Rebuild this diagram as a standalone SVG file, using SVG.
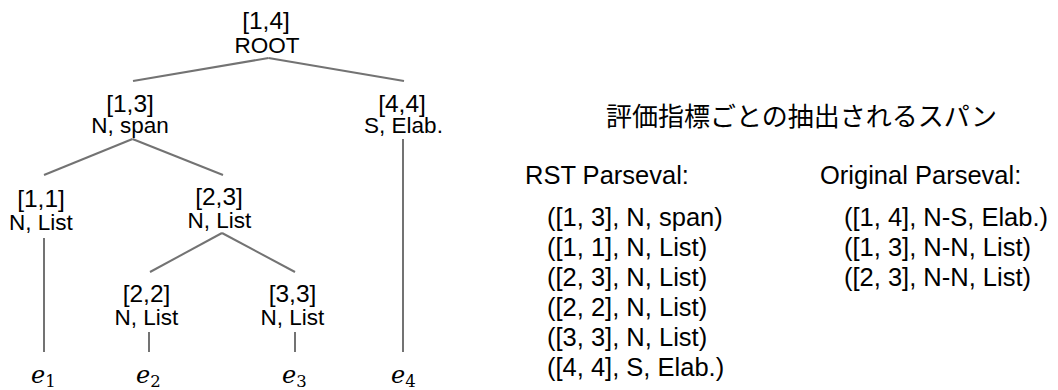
<svg xmlns="http://www.w3.org/2000/svg" width="1058" height="390" viewBox="0 0 1058 390">
<style>
text{font-family:"Liberation Sans",Arial,sans-serif;fill:#000}
.br{font-size:24.5px;text-anchor:middle}
.lb{font-size:22.5px;text-anchor:middle}
.e{font-family:"DejaVu Serif","Liberation Serif",serif;font-style:italic;font-size:24px}
.sub{font-style:normal;font-size:16.5px}
.r{font-size:25.5px}
.t{font-family:"Noto Sans CJK JP","Noto Sans CJK SC",sans-serif;font-size:26px}
.c line{stroke:#737373;stroke-width:2;fill:none}
</style>
<rect width="1058" height="390" fill="#fff"/>
<g class="c" id="connectors">
<line x1="268.5" y1="58" x2="133" y2="81"/>
<line x1="268.5" y1="58" x2="404" y2="81"/>
<line x1="132.5" y1="139" x2="44" y2="175"/>
<line x1="132.5" y1="139" x2="223" y2="175"/>
<line x1="403" y1="139" x2="403" y2="352"/>
<line x1="44" y1="238" x2="44" y2="352"/>
<line x1="222" y1="233" x2="150" y2="272"/>
<line x1="222" y1="233" x2="295" y2="272"/>
<line x1="149" y1="332" x2="149" y2="352"/>
<line x1="295" y1="332" x2="295" y2="352"/>
</g>
<g id="n14"><text class="br" x="266" y="29">[1,4]</text><text class="lb" x="267" y="52.5">ROOT</text></g>
<g id="n13"><text class="br" x="130" y="112">[1,3]</text><text class="lb" x="130" y="132.5">N, span</text></g>
<g id="n44"><text class="br" x="402" y="112">[4,4]</text><text class="lb" x="403.5" y="132.5">S, Elab.</text></g>
<g id="n11"><text class="br" x="41" y="207">[1,1]</text><text class="lb" x="41" y="230">N, List</text></g>
<g id="n23"><text class="br" x="219" y="205">[2,3]</text><text class="lb" x="219.5" y="227.5">N, List</text></g>
<g id="n22"><text class="br" x="146.5" y="301.5">[2,2]</text><text class="lb" x="146.5" y="325">N, List</text></g>
<g id="n33"><text class="br" x="292.5" y="301.5">[3,3]</text><text class="lb" x="292.5" y="325">N, List</text></g>
<g id="edus">
<text class="e" x="31" y="383">e<tspan class="sub" dy="4">1</tspan></text>
<text class="e" x="136" y="383">e<tspan class="sub" dy="4">2</tspan></text>
<text class="e" x="282" y="383">e<tspan class="sub" dy="4">3</tspan></text>
<text class="e" x="391" y="383">e<tspan class="sub" dy="4">4</tspan></text>
</g>
<g id="spans">
<text class="t" x="606" y="126">評価指標ごとの抽出されるスパン</text>
<text class="r" x="525" y="184">RST Parseval:</text>
<text class="r" x="547" y="226">([1, 3], N, span)</text>
<text class="r" x="547" y="256">([1, 1], N, List)</text>
<text class="r" x="547" y="286">([2, 3], N, List)</text>
<text class="r" x="547" y="316">([2, 2], N, List)</text>
<text class="r" x="547" y="346">([3, 3], N, List)</text>
<text class="r" x="547" y="376">([4, 4], S, Elab.)</text>
<text class="r" x="820" y="184">Original Parseval:</text>
<text class="r" x="844" y="226">([1, 4], N-S, Elab.)</text>
<text class="r" x="844" y="256">([1, 3], N-N, List)</text>
<text class="r" x="844" y="286">([2, 3], N-N, List)</text>
</g>
</svg>
